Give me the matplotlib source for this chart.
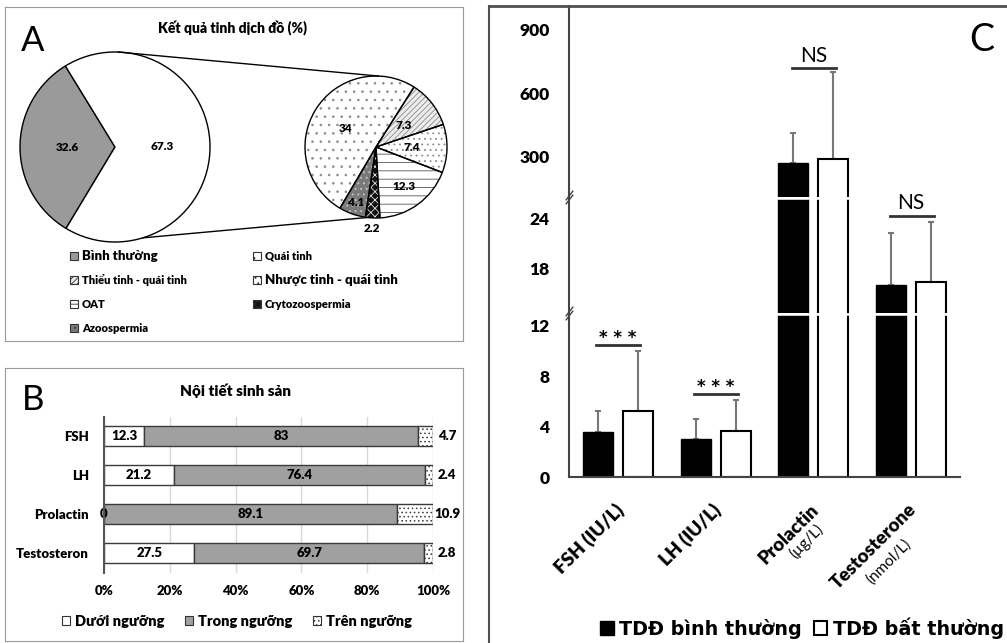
import matplotlib
matplotlib.use("Agg")
import matplotlib.pyplot as plt
from matplotlib.patches import Rectangle, Patch
from matplotlib.lines import Line2D
from matplotlib.transforms import ScaledTranslation
import numpy as np

plt.rcParams["font.family"] = ["Lato", "DejaVu Sans"]
plt.rcParams["hatch.linewidth"] = 0.6
BOLD = "heavy"  # Lato Bold reads too light next to the original's Calibri Bold

# ---- panel A: semen analysis (pie of pie)
semen_main_labels = ["Bình thường", "Bất thường"]
semen_main_values = [32.6, 67.3]
semen_sub_labels = ["Quái tinh", "Thiểu tinh - quái tinh", "Nhược tinh - quái tinh",
                    "OAT", "Crytozoospermia", "Azoospermia"]
semen_sub_values = [34, 7.3, 7.4, 12.3, 2.2, 4.1]

# ---- panel B: reproductive hormones, % of patients
hormones_b = ["FSH", "LH", "Prolactin", "Testosteron"]
below_range = [12.3, 21.2, 0, 27.5]
in_range = [83, 76.4, 89.1, 69.7]
above_range = [4.7, 2.4, 10.9, 2.8]
range_labels = ["Dưới ngưỡng", "Trong ngưỡng", "Trên ngưỡng"]

# ---- panel C: hormone levels by semen result (mean, SD)
hormones_c = ["FSH (IU/L)", "LH (IU/L)", "Prolactin", "Testosterone"]
hormone_units = ["", "", "(µg/L)", "(nmol/L)"]
normal_mean = [3.6, 3.0, 272, 16.1]
normal_sd = [1.6, 1.6, 141, 6.2]
abnormal_mean = [5.2, 3.65, 291, 16.5]
abnormal_sd = [4.8, 2.45, 410, 7.0]
sig_text = ["* * *", "* * *", "NS", "NS"]
sig_level = [10.5, 6.6, 720, 24.3]
group_labels = ["TDĐ bình thường", "TDĐ bất thường"]

W, H = 1007, 643
fig = plt.figure(figsize=(W / 100, H / 100), dpi=100)


def fx(px):
    return px / W


def fy(py):
    return 1 - py / H


# =================== A ===================
axA = fig.add_axes([fx(5), fy(341), 458 / W, 334 / H])
cx1, cy1, r1 = 110, 194, 95
cx2, cy2, r2 = 371, 194, 71

main_fill = ["#9a9a9a", "white"]
w_main, _ = axA.pie(semen_main_values, colors=main_fill, startangle=121.5,
                    center=(cx1, cy1), radius=r1, frame=True,
                    wedgeprops=dict(edgecolor="black", linewidth=1))
for w, v in zip(w_main, semen_main_values):
    a = np.deg2rad((w.theta1 + w.theta2) / 2)
    axA.text(cx1 + 0.5 * r1 * np.cos(a), cy1 + 0.5 * r1 * np.sin(a), f"{v}",
             ha="center", va="center", fontsize=8.5, fontweight=BOLD)

sub_fill = ["white", "#ececec", "white", "white", "#111111", "#7a7a7a"]
sub_hatch = ["..", "//////", "...", "--", "xxxx", "..."]
sub_hatch_col = ["#8a8a8a", "#8a8a8a", "#8a8a8a", "#555555", "#dddddd", "#c8c8c8"]
w_sub, _ = axA.pie(semen_sub_values, colors=sub_fill, startangle=239.5, counterclock=False,
                   center=(cx2, cy2), radius=r2, frame=True, wedgeprops=dict(linewidth=0))
for w, h, hc in zip(w_sub, sub_hatch, sub_hatch_col):
    w.set_hatch(h)
    w.set_edgecolor(hc)
axA.pie(semen_sub_values, colors=["none"] * 6, startangle=239.5, counterclock=False,
        center=(cx2, cy2), radius=r2, frame=True,
        wedgeprops=dict(edgecolor="black", linewidth=1, fill=False))
sub_lab_dist = [0.5, 0.5, 0.5, 0.68, 1.15, 0.83]
for w, v, d in zip(w_sub, semen_sub_values, sub_lab_dist):
    a = np.deg2rad((w.theta1 + w.theta2) / 2)
    axA.text(cx2 + d * r2 * np.cos(a), cy2 + d * r2 * np.sin(a), f"{v}",
             ha="center", va="center", fontsize=8.5, fontweight=BOLD)

# connector lines between the two pies
for a1, a2 in [(88, 88), (-73, -97)]:
    t1, t2 = np.deg2rad(a1), np.deg2rad(a2)
    axA.plot([cx1 + r1 * np.cos(t1), cx2 + r2 * np.cos(t2)],
             [cy1 + r1 * np.sin(t1), cy2 + r2 * np.sin(t2)], color="black", lw=1)

axA.set_xlim(0, 458)
axA.set_ylim(0, 334)
axA.set_xticks([])
axA.set_yticks([])
for s in axA.spines.values():
    s.set_color("#9a9a9a")
axA.text(228, 313, "Kết quả tinh dịch đồ (%)", ha="center", va="center",
         fontsize=10, fontweight=BOLD)
axA.text(28, 300, "A", ha="center", va="center", fontsize=25)

# legend of panel A, filled row by row like the original
leg_labels = [semen_main_labels[0]] + semen_sub_labels
leg_fill = [main_fill[0]] + sub_fill
leg_hatch = [None] + sub_hatch
leg_size = [9.5, 8, 8, 9.5, 8, 8, 8]
for i, (lab, fc, h, fs) in enumerate(zip(leg_labels, leg_fill, leg_hatch, leg_size)):
    row, col = divmod(i, 2)
    mx = [69, 252][col]
    my = 85 - 24 * row
    axA.add_patch(Rectangle((mx - 4, my - 4), 8, 8, facecolor=fc, hatch=h,
                            edgecolor="#333333", lw=0.8))
    axA.text(mx + 8, my, lab, ha="left", va="center", fontsize=fs, fontweight=BOLD)

# =================== B ===================
frameB = fig.add_axes([fx(5), fy(641), 458 / W, 273 / H])
frameB.set_xticks([])
frameB.set_yticks([])
for s in frameB.spines.values():
    s.set_color("#9a9a9a")
fig.text(fx(33), fy(400), "B", ha="center", va="center", fontsize=25)
fig.text(fx(235), fy(391), "Nội tiết sinh sản", ha="center", va="center",
         fontsize=11, fontweight=BOLD)

axB = fig.add_axes([fx(104), fy(572.5), 329 / W, 156 / H])
yb = np.arange(len(hormones_b))
seg_fill = ["white", "#a0a0a0", "white"]
seg_hatch = [None, None, "...."]
left = np.zeros(len(hormones_b))
for k, vals in enumerate([below_range, in_range, above_range]):
    vals = np.array(vals, dtype=float)
    axB.barh(yb, vals, left=left, height=0.49, color=seg_fill[k], hatch=seg_hatch[k],
             edgecolor="#3a3a3a", linewidth=1, zorder=3)
    for yi, l, v in zip(yb, left, vals):
        xt = l + v / 2 if k < 2 else 104.3
        axB.text(xt, yi, f"{v:g}", ha="center", va="center", fontsize=9.5,
                 fontweight=BOLD, zorder=4, clip_on=False)
    left += vals

axB.set_xlim(0, 100)
axB.set_ylim(3.5, -0.5)
axB.set_yticks(yb, hormones_b, fontsize=9.5, fontweight=BOLD)
axB.set_xticks(np.arange(0, 101, 20), [f"{t}%" for t in range(0, 101, 20)],
               fontsize=9.5, fontweight=BOLD)
axB.tick_params(length=0)
axB.tick_params(axis="y", pad=11)
axB.tick_params(axis="x", pad=9)
axB.grid(axis="x", color="#d9d9d9", lw=1, zorder=0)
for s in ["top", "right", "bottom"]:
    axB.spines[s].set_visible(False)
axB.spines["left"].set_color("#555555")
axB.spines["left"].set_linewidth(1.5)
axB.spines["left"].set_zorder(5)
handlesB = [Patch(facecolor=fc, hatch=h, edgecolor="#333333", lw=0.8)
            for fc, h in zip(seg_fill, seg_hatch)]
axB.legend(handlesB, range_labels, loc="center", bbox_to_anchor=(fx(237), fy(621)),
           bbox_transform=fig.transFigure, ncol=3, frameon=False,
           prop=dict(size=10.5, weight=BOLD), handlelength=0.55, handleheight=0.55,
           handletextpad=0.35, columnspacing=1.4)

# =================== C ===================
seg_px = [(477, 313), (313, 197), (197, 6)]
seg_lim = [(0, 13.0), (12.8, 26.5), (111, 1013)]
seg_ticks = [[0, 4, 8, 12], [18, 24], [300, 600, 900]]
xc = np.arange(len(hormones_c))
bw, off = 0.307, 0.205
axes_c = []
for n, ((pb, pt), lim, ticks) in enumerate(zip(seg_px, seg_lim, seg_ticks)):
    ax = fig.add_axes([fx(569), fy(pb), (960 - 569) / W, (pb - pt) / H])
    b_norm = ax.bar(xc - off, normal_mean, bw, color="black", edgecolor="black", lw=1, zorder=2)
    b_abn = ax.bar(xc + off, abnormal_mean, bw, color="white", edgecolor="black", lw=1.5, zorder=2)
    ax.errorbar(xc - off, normal_mean, yerr=[np.zeros(4), normal_sd], fmt="none",
                ecolor="#777777", elinewidth=1.5, capsize=2, capthick=1.5, zorder=1)
    ax.errorbar(xc + off, abnormal_mean, yerr=[np.zeros(4), abnormal_sd], fmt="none",
                ecolor="#777777", elinewidth=1.5, capsize=2, capthick=1.5, zorder=1)
    ax.set_xlim(-0.5, 3.5)
    ax.set_ylim(lim)
    ax.set_yticks(ticks, [str(t) for t in ticks], fontsize=12.5, fontweight=BOLD)
    ax.tick_params(axis="y", length=0, pad=14)
    ax.spines[["top", "right"]].set_visible(False)
    ax.spines["left"].set_color("#444444")
    ax.spines["left"].set_linewidth(1.5)
    ax.patch.set_alpha(0)
    ax.set_xticks([])
    if n > 0:
        ax.spines["bottom"].set_visible(False)
    else:
        ax.spines["bottom"].set_color("#444444")
        ax.spines["bottom"].set_linewidth(1.5)
    if n < 2:
        # white cut through the bars and the "//" mark on the axis
        ax.hlines(np.full(len(xc), lim[1]), xc - 0.38, xc + 0.38, colors="white", lw=4,
                  clip_on=False, zorder=10)
        for dy in (-1.6, 1.6):
            ax.plot([0], [1], transform=ax.transAxes + ScaledTranslation(0, dy / 72, fig.dpi_scale_trans),
                    marker=[(-1, -1.3), (1, 1.3)], markersize=7, color="#444444", mew=1,
                    linestyle="none", clip_on=False, zorder=11)
    axes_c.append(ax)

ax1 = axes_c[0]
# rotated category labels, unit on a second, smaller line
unit_off = [(0, 0), (0, 0), (5.6, -36), (-1.6, -46.8)]
for xi, name, u, (dx, dy) in zip(xc, hormones_c, hormone_units, unit_off):
    ax1.annotate(name, xy=(xi, 0), xycoords=("data", "axes fraction"), xytext=(2, -21.6),
                 textcoords="offset points", rotation=45, ha="right", va="center",
                 rotation_mode="anchor", fontsize=13.5, fontweight=BOLD)
    if u:
        ax1.annotate(u, xy=(xi, 0), xycoords=("data", "axes fraction"), xytext=(dx, dy),
                     textcoords="offset points", rotation=45, ha="right", va="center",
                     rotation_mode="anchor", fontsize=11)

for xi, t, lvl in zip(xc, sig_text, sig_level):
    ax = next(a for a in axes_c if a.get_ylim()[0] <= lvl <= a.get_ylim()[1])
    ax.plot([xi - 0.22, xi + 0.23], [lvl, lvl], color="#333333", lw=2, zorder=12)
    if t == "NS":
        ax.annotate(t, (xi, lvl), xytext=(0, 4.5), textcoords="offset points", ha="center",
                    va="baseline", fontsize=15, zorder=12)
    else:
        ax.annotate(t, (xi, lvl), xytext=(0, 1), textcoords="offset points", ha="center",
                    va="baseline", fontsize=12, family="DejaVu Sans", fontweight="bold", zorder=12)

fig.text(fx(982), fy(40), "C", ha="center", va="center", fontsize=27)
fig.legend([b_norm, b_abn], group_labels, loc="center left",
           bbox_to_anchor=(fx(583), fy(628)), ncol=2, frameon=False,
           prop=dict(family="DejaVu Sans", weight="bold", size=13.8),
           handlelength=0.7, handleheight=0.7, handletextpad=0.3, columnspacing=0.6)

fig.add_artist(Line2D([fx(489), 1], [fy(6), fy(6)], color="#505050", lw=2))
fig.add_artist(Line2D([fx(489), fx(489)], [fy(6), 0], color="#505050", lw=1.5))

fig.savefig("out.png", dpi=100)
